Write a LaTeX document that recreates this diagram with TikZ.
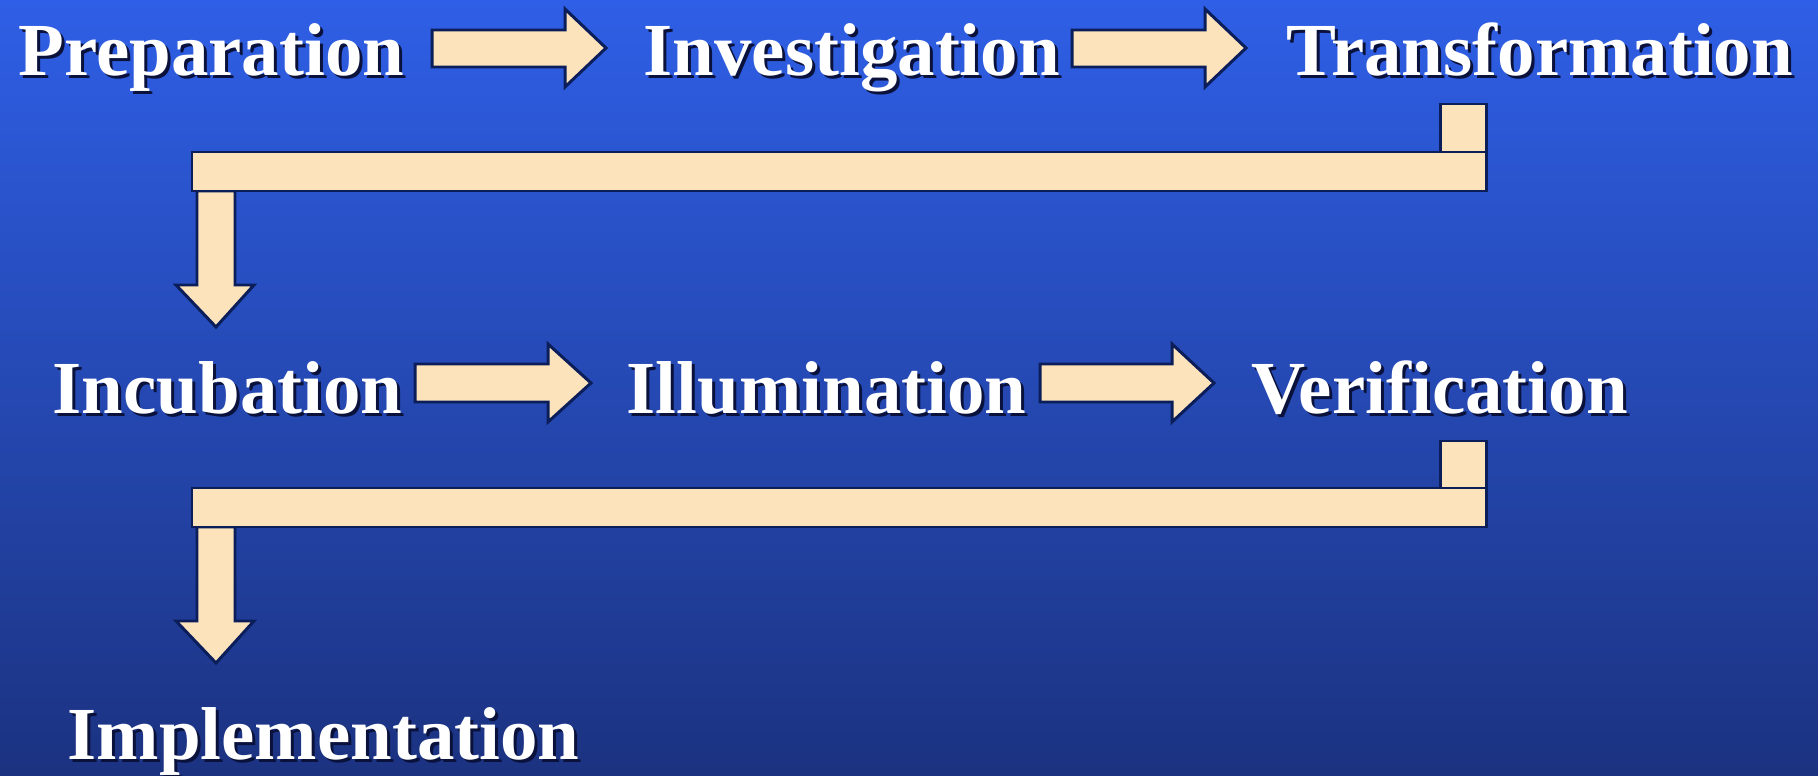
\documentclass[tikz,border=0pt]{standalone}
\usepackage{fontspec}
\setmainfont{Liberation Serif}
\definecolor{bgtop}{RGB}{47,95,230}
\definecolor{bgbot}{RGB}{27,50,128}
\definecolor{arrowfill}{RGB}{252,227,187}
\definecolor{arrowline}{RGB}{12,30,90}
\definecolor{shadowc}{RGB}{10,18,60}
\tikzset{
  lbl/.style={anchor=base west, inner sep=0pt, text=white, font=\fontsize{21.3pt}{25pt}\selectfont\bfseries},
  lblshadow/.style={lbl, text=shadowc},
  blockarrow/.style={fill=arrowfill, draw=arrowline, line width=0.85pt, line join=miter},
}
\newcommand{\shlabel}[3]{%
  \node[lblshadow] (#1s) at ($(#2)+(3,3)$) {#3};
  \node[lbl] (#1) at (#2) {#3};}
\usetikzlibrary{calc}
\begin{document}
\begin{tikzpicture}[x=0.01cm,y=-0.01cm]
\useasboundingbox (0,0) rectangle (1818,776);
\shade[top color=bgtop, bottom color=bgbot] (0,0) rectangle (1818,776);
% labels
\shlabel{prep}{18,76}{Preparation}
\shlabel{inv}{643,76}{Investigation}
\shlabel{trans}{1286,76}{Transformation}
\shlabel{incu}{52,413}{Incubation}
\shlabel{illu}{626,413}{Illumination}
\shlabel{veri}{1251,413}{Verification}
\shlabel{impl}{67,759}{Implementation}
% horizontal arrows row 1
\draw[blockarrow] (432,30) -- (565,30) -- (565,9) -- (606,48) -- (565,87) -- (565,67) -- (432,67) -- cycle;
\draw[blockarrow] (1072,30) -- (1205,30) -- (1205,9) -- (1246,48) -- (1205,87) -- (1205,67) -- (1072,67) -- cycle;
% horizontal arrows row 2
\draw[blockarrow] (415,364) -- (548,364) -- (548,344) -- (591,383) -- (548,422) -- (548,402) -- (415,402) -- cycle;
\draw[blockarrow] (1040,364) -- (1172,364) -- (1172,344) -- (1214,383) -- (1172,422) -- (1172,402) -- (1040,402) -- cycle;
% return connector 1
\draw[blockarrow] (1440,104) rectangle (1486,152);
\draw[blockarrow] (197,191) -- (235,191) -- (235,285) -- (254,285) -- (216,327) -- (176,285) -- (197,285) -- cycle;
\draw[blockarrow] (192,152) rectangle (1486,191);
% return connector 2
\draw[blockarrow] (1440,441) rectangle (1486,488);
\draw[blockarrow] (197,527) -- (235,527) -- (235,621) -- (254,621) -- (216,663) -- (176,621) -- (197,621) -- cycle;
\draw[blockarrow] (192,488) rectangle (1486,527);
\end{tikzpicture}
\end{document}
